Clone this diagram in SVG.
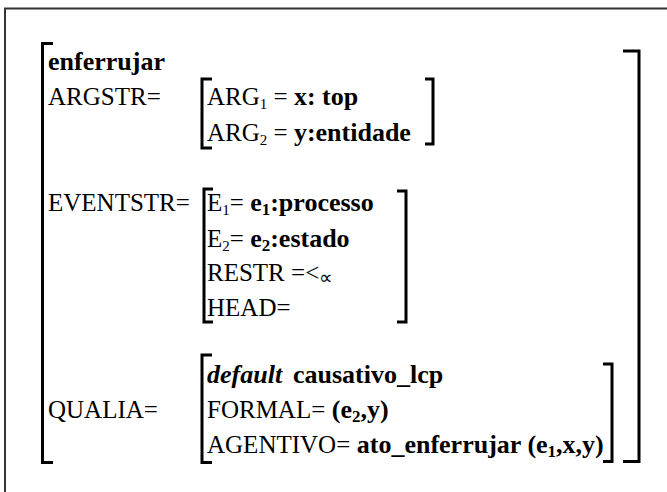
<svg xmlns="http://www.w3.org/2000/svg" width="667" height="492" viewBox="0 0 667 492">
<style>
  text { font-family: "Liberation Serif", "Times New Roman", serif; font-size: 25px; fill: #000; }
  .b { font-weight: bold; font-size: 26px; }
  .bi { font-weight: bold; font-style: italic; font-size: 26px; }
  .sub { font-size: 15px; }
  .prop { font-size: 19px; }
  .bsub { font-size: 17px; font-weight: bold; }
  .br { fill: none; stroke: #000; stroke-width: 3; stroke-linejoin: miter; stroke-linecap: butt; }
  .frame { fill: none; stroke: #333; stroke-width: 2; }
</style>
<rect width="667" height="492" fill="#fff"/>
<g id="frame">
  <path class="frame" d="M5,492 V8.5 H667"/>
</g>
<g id="brackets">
  <path id="outer-left" class="br" d="M53,43.5 H42.5 V462.5 H53"/>
  <path id="outer-right" class="br" d="M623,51 H639 V461.5 H623"/>
  <path id="argstr-left" class="br" d="M212,79 H202 V148 H212"/>
  <path id="argstr-right" class="br" d="M425,79 H433 V144 H425"/>
  <path id="eventstr-left" class="br" d="M213,189 H204 V322 H213"/>
  <path id="eventstr-right" class="br" d="M397,191 H406 V322 H397"/>
  <path id="qualia-left" class="br" d="M212,355 H202 V462.5 H212"/>
  <path id="qualia-right" class="br" d="M603,364 H612 V461.5 H603"/>
</g>
<g id="head">
  <text class="b" x="48" y="70">enferrujar</text>
</g>
<g id="argstr">
  <text x="48" y="105">ARGSTR=</text>
  <text x="207" y="105">ARG<tspan class="sub" dy="4">1</tspan><tspan dy="-4"> = </tspan><tspan class="b">x: top</tspan></text>
  <text x="207" y="140.5">ARG<tspan class="sub" dy="4">2</tspan><tspan dy="-4"> = </tspan><tspan class="b">y:entidade</tspan></text>
</g>
<g id="eventstr">
  <text x="48" y="211">EVENTSTR=</text>
  <text x="207" y="211">E<tspan class="sub" dy="4">1</tspan><tspan dy="-4">= </tspan><tspan class="b">e</tspan><tspan class="bsub" dy="4">1</tspan><tspan class="b" dy="-4">:processo</tspan></text>
  <text x="207" y="246.5">E<tspan class="sub" dy="4">2</tspan><tspan dy="-4">= </tspan><tspan class="b">e</tspan><tspan class="bsub" dy="4">2</tspan><tspan class="b" dy="-4">:estado</tspan></text>
  <text x="207" y="281">RESTR =&lt;<tspan class="prop" dy="3">∝</tspan></text>
  <text x="207" y="316">HEAD=</text>
</g>
<g id="qualia">
  <text x="48" y="418">QUALIA=</text>
  <text class="bi" x="207" y="382.5">default</text>
  <text class="b" x="293" y="382.5">causativo_lcp</text>
  <text x="207" y="418">FORMAL=<tspan class="b"> (e</tspan><tspan class="bsub" dy="4">2</tspan><tspan class="b" dy="-4">,y)</tspan></text>
  <text x="207" y="453">AGENTIVO=<tspan class="b"> ato_enferrujar (e</tspan><tspan class="bsub" dy="4">1</tspan><tspan class="b" dy="-4">,x,y)</tspan></text>
</g>
</svg>
